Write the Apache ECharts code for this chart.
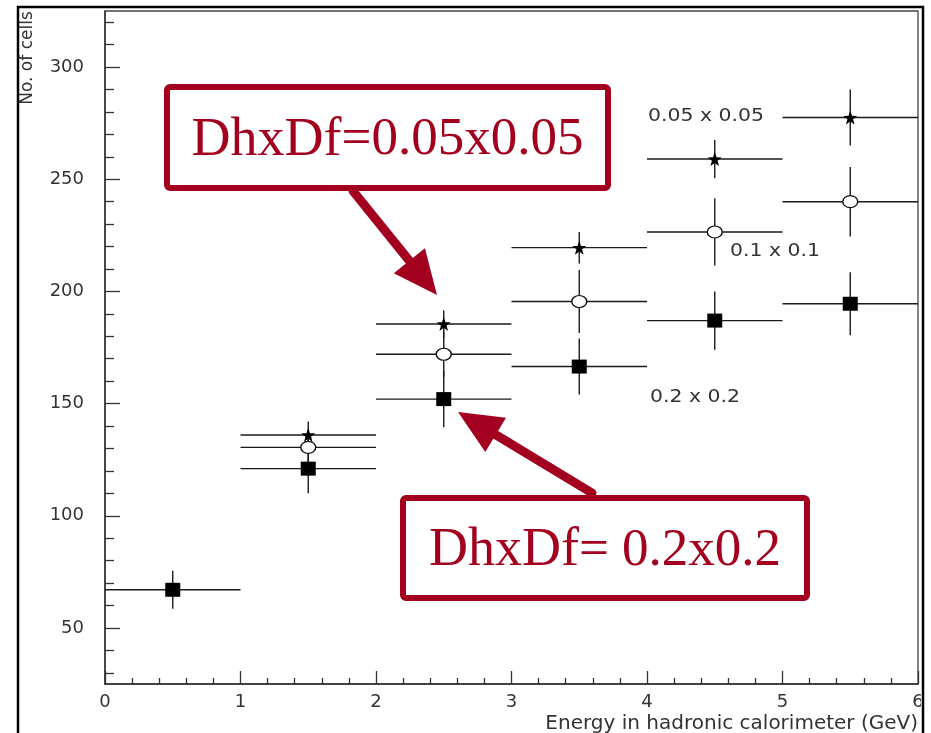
<!DOCTYPE html>
<html>
<head>
<meta charset="utf-8">
<script src="https://cdn.jsdelivr.net/npm/echarts@6/dist/echarts.min.js"></script>
<style>
html, body { margin: 0; padding: 0; background: #fff; }
#container { width: 931px; height: 733px; }
</style>
</head>
<body>
<div id="container"></div>
<script>
// bin centres (GeV) and half bin width
var energy = [0.5, 1.5, 2.5, 3.5, 4.5, 5.5]
var binHalf = 0.5

// 0.2 x 0.2 cells (squares)
var cells02 = [67, 121, 152, 166.5, 187, 194.5]
var err02 = [8.5, 11, 12.5, 12.5, 13, 14]
// 0.1 x 0.1 cells (open circles), no point in first bin
var cells01 = [null, 130.5, 172, 195.5, 226.5, 240]
var err01 = [null, 8, 10, 14, 15, 15.5]
// 0.05 x 0.05 cells (stars), no point in first bin
var cells005 = [null, 136, 185.5, 219.5, 259, 277.5]
var err005 = [null, 6, 6, 7, 8.5, 12.5]

var yMajor = [50, 100, 150, 200, 250, 300]
var yMinor = [30, 40, 60, 70, 80, 90, 110, 120, 130, 140, 160, 170, 180, 190,
    210, 220, 230, 240, 260, 270, 280, 290, 310, 320]

var red = '#a3001f'
var ink = '#333'
var starPath = 'path://M0,-10 L2.35,-3.24 L9.51,-3.09 L3.8,1.24 L5.88,8.09 L0,4 L-5.88,8.09 L-3.8,1.24 L-9.51,-3.09 L-2.35,-3.24 Z'

// [x, y, err] rows for one series
function rows(vals, errs) {
    var out = []
    for (var i = 0; i < energy.length; i++) {
        if (vals[i] == null) continue
        out.push([energy[i], vals[i], errs[i]])
    }
    return out
}

function errorBars(params, api) {
    var x = api.value(0), y = api.value(1), e = api.value(2)
    var l = api.coord([x - binHalf, y])
    var r = api.coord([x + binHalf, y])
    var t = api.coord([x, y + e])
    var b = api.coord([x, y - e])
    var st = { stroke: '#1a1a1a', lineWidth: 1.4 }
    return {
        type: 'group',
        children: [
            { type: 'line', shape: { x1: l[0], y1: l[1], x2: r[0], y2: r[1] }, style: st },
            { type: 'line', shape: { x1: t[0], y1: t[1], x2: b[0], y2: b[1] }, style: st }
        ]
    }
}

function arrow(x1, y1, x2, y2) {
    var dx = x2 - x1, dy = y2 - y1
    var len = Math.sqrt(dx * dx + dy * dy)
    var ux = dx / len, uy = dy / len
    var hl = 44, hw = 20
    var bx = x2 - ux * hl, by = y2 - uy * hl
    return [
        { type: 'line', shape: { x1: x1, y1: y1, x2: bx + ux * 4, y2: by + uy * 4 },
          style: { stroke: red, lineWidth: 9, lineCap: 'round' }, z: 100 },
        { type: 'polygon', shape: { points: [[x2, y2], [bx + uy * hw, by - ux * hw], [bx - uy * hw, by + ux * hw]] },
          style: { fill: red }, z: 100 }
    ]
}

function box(x, y, w, h, a, b) {
    return [
        { type: 'rect', shape: { x: x, y: y, width: w, height: h, r: 3 },
          style: { fill: '#fff', stroke: red, lineWidth: 6 }, z: 100 },
        { type: 'text', x: x + w / 2, y: y + h / 2 + 3, z: 101,
          style: {
              text: '{a|' + a + '}{b|' + b + '}',
              align: 'center', verticalAlign: 'middle',
              rich: {
                  a: { fontFamily: 'Liberation Serif', fontSize: 54, fill: red, color: red },
                  b: { fontFamily: 'Liberation Serif', fontSize: 53, fill: red, color: red }
              }
          } }
    ]
}

function note(x, y, t) {
    return { type: 'text', x: x, y: y, z: 50, scaleX: 1.2,
        style: { text: t, fontFamily: 'DejaVu Sans', fontSize: 17, fill: ink, verticalAlign: 'middle' } }
}

var dom = document.getElementById('container')
var myChart = echarts.init(dom, null, { renderer: 'canvas' })

var graphics = [
    note(648, 117, '0.05 x 0.05'),
    note(730, 252, '0.1 x 0.1'),
    note(650, 398, '0.2 x 0.2'),
    { type: 'text', x: 918, y: 724, z: 50,
      style: { text: 'Energy in hadronic calorimeter (GeV)', fontFamily: 'DejaVu Sans', fontSize: 20,
               fill: ink, align: 'right', verticalAlign: 'middle' } },
    { type: 'text', x: 28, y: 58, rotation: Math.PI / 2, z: 50,
      style: { text: 'No. of cells', fontFamily: 'DejaVu Sans', fontSize: 17, fill: ink,
               align: 'center', verticalAlign: 'middle' } },
    // page frame
    { type: 'rect', shape: { x: 921, y: 0, width: 10, height: 733 }, style: { fill: '#fff' }, z: 200 },
    { type: 'rect', shape: { x: 18, y: 7, width: 905, height: 760 },
      style: { fill: null, stroke: '#000', lineWidth: 2.5 }, z: 201 }
]
graphics = graphics.concat(box(167, 87, 441, 101, 'DhxDf', '=0.05x0.05'))
graphics = graphics.concat(box(403, 498, 404, 100, 'DhxDf', '= 0.2x0.2'))
graphics = graphics.concat(arrow(353, 191, 437, 295))
graphics = graphics.concat(arrow(592, 493, 458, 412))

option = {
    animation: false,
    backgroundColor: '#fff',
    grid: { left: 105, right: 13, top: 11, bottom: 49, show: true, borderColor: '#444', borderWidth: 1.3 },
    xAxis: {
        type: 'value', min: 0, max: 6, interval: 1,
        axisLine: { lineStyle: { color: '#333', width: 1.5 } },
        axisTick: { inside: true, length: 13, lineStyle: { color: '#333', width: 1.3 } },
        minorTick: { show: true, splitNumber: 5, length: 6, lineStyle: { color: '#333', width: 1.3 } },
        splitLine: { show: false },
        axisLabel: { margin: 9, fontFamily: 'DejaVu Sans', fontSize: 18, color: ink }
    },
    yAxis: [{
        type: 'value', min: 25, max: 325,
        axisLine: { lineStyle: { color: '#333', width: 1.5 } },
        axisTick: { inside: true, length: 15, customValues: yMajor, lineStyle: { color: '#333', width: 1.3 } },
        splitLine: { show: false },
        axisLabel: { margin: 21, customValues: yMajor, fontFamily: 'DejaVu Sans', fontSize: 18, color: ink }
    }, {
        type: 'value', min: 25, max: 325, position: 'left',
        axisLine: { show: false },
        axisTick: { inside: true, length: 9, customValues: yMinor, lineStyle: { color: '#333', width: 1.3 } },
        splitLine: { show: false },
        axisLabel: { show: false }
    }],
    series: [
        { type: 'custom', name: 'e02', renderItem: errorBars, data: rows(cells02, err02), z: 2 },
        { type: 'custom', name: 'e01', renderItem: errorBars, data: rows(cells01, err01), z: 2 },
        { type: 'custom', name: 'e005', renderItem: errorBars, data: rows(cells005, err005), z: 2 },
        { type: 'scatter', name: '0.2 x 0.2', data: rows(cells02, err02), symbol: 'rect', symbolSize: [15, 14],
          itemStyle: { color: '#000', opacity: 1 }, z: 5 },
        { type: 'scatter', name: '0.1 x 0.1', data: rows(cells01, err01), symbol: 'circle', symbolSize: [15, 12],
          itemStyle: { color: '#fff', borderColor: '#111', borderWidth: 1.3, opacity: 1 }, z: 5 },
        { type: 'scatter', name: '0.05 x 0.05', data: rows(cells005, err005), symbol: starPath, symbolSize: 14,
          itemStyle: { color: '#000', opacity: 1 }, z: 6 }
    ],
    graphic: graphics
}

myChart.setOption(option)
</script>
</body>
</html>
